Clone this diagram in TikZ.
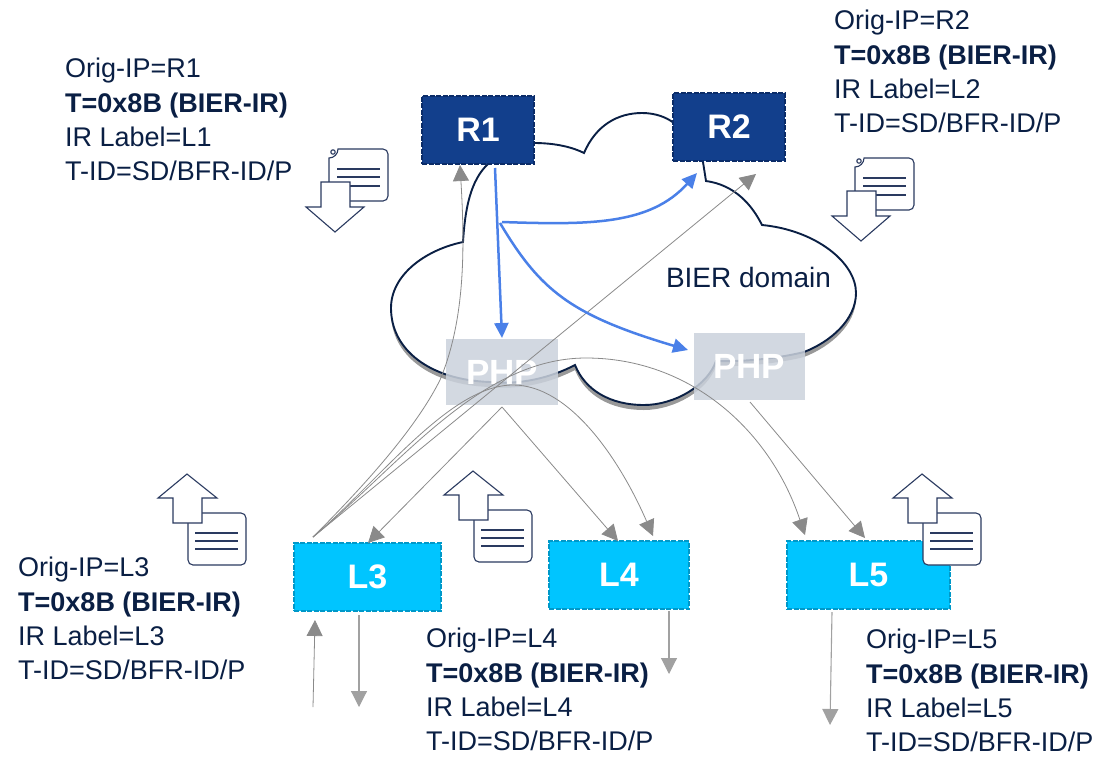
\documentclass[tikz,border=0pt]{standalone}
\usepackage{fontspec}
\setmainfont{Liberation Sans}
\usetikzlibrary{arrows.meta}
\definecolor{ink}{HTML}{0A1F44}
\definecolor{rblue}{HTML}{123F8C}
\definecolor{rdash}{HTML}{0B2C68}
\definecolor{lcyan}{HTML}{00C5FF}
\definecolor{ldash}{HTML}{0098C8}
\definecolor{phpgrey}{HTML}{CBD2DC}
\definecolor{flow}{HTML}{4A80E8}
\definecolor{thin}{HTML}{8A8A8A}
\definecolor{iconline}{HTML}{2A3A60}
\tikzset{
  rbox/.style={draw=rdash,dash pattern=on 5pt off 1.5pt,line width=1.5pt,fill=rblue,text=white,font=\fontsize{34}{36}\selectfont\bfseries,inner sep=0pt},
  lbox/.style={draw=ldash,dash pattern=on 5pt off 1.5pt,line width=1.6pt,fill=lcyan,text=white,font=\fontsize{34}{36}\selectfont\bfseries,inner sep=0pt},
  phpbox/.style={fill=phpgrey,fill opacity=.85,text opacity=1,text=white,font=\fontsize{35}{36}\selectfont\bfseries,inner sep=0pt},
  info/.style={anchor=north west,align=left,inner sep=0pt,text=ink,font=\fontsize{27}{34.3}\selectfont},
  flowline/.style={draw=flow,line width=2.5pt,-{Triangle[length=15pt,width=14pt]}},
  thinline/.style={draw=thin,line width=.8pt,-{Triangle[length=16pt,width=16pt]}},
  grayline/.style={draw=thin!80,line width=1.1pt,-{Triangle[length=16pt,width=16pt]}},
  iconstroke/.style={draw=iconline,line width=1.1pt},
  pics/docdown/.style={code={
    \draw[iconstroke,fill=white,rounded corners=5pt] (9,0) -- (59,0) -- (59,52) -- (0,52) -- (0,14) [sharp corners] -- (0,9) .. controls (5,9) and (9,5) .. (9,0) -- cycle;
    \draw[iconstroke,fill=white] (4,3) circle[radius=2.2];
    \foreach \yy in {20,28,37}{\draw[iconstroke,line width=1.6pt] (8,\yy) -- (51,\yy);}
    \draw[iconstroke,fill=white] (-8,33) -- (21,33) -- (21,58) -- (35,58) -- (6,83) -- (-23,58) -- (-8,58) -- cycle;
  }},
  pics/docup/.style={code={
    \draw[iconstroke,fill=white,rounded corners=5pt] (1,39) -- (59,39) -- (59,91) -- (1,91) -- cycle;
    \foreach \yy in {59,67,75}{\draw[iconstroke,line width=1.6pt] (8,\yy) -- (51,\yy);}
    \draw[iconstroke,fill=white] (0,0) -- (30,24) -- (15,24) -- (15,49) -- (-14,49) -- (-14,24) -- (-29,24) -- cycle;
  }},
}
\begin{document}
\begin{tikzpicture}[x=1pt,y=-1pt]
\useasboundingbox (0,0) rectangle (1095,756);
\def\cloudpath{(534,143) .. controls (552,143) and (570,146) .. (584,153)
 .. controls (596,125) and (618,113) .. (642,113) .. controls (655,113) and (666,117) .. (674,123)
 -- (703,162) -- (706,181) .. controls (735,185) and (752,205) .. (762,225)
 .. controls (815,230) and (856,262) .. (856,293) .. controls (856,320) and (830,342) .. (804,352)
 .. controls (780,358) and (745,362) .. (716,361) .. controls (708,385) and (675,405) .. (644,405)
 .. controls (610,405) and (585,390) .. (575,365) .. controls (550,378) and (520,385) .. (490,382)
 .. controls (430,380) and (391,350) .. (391,308) .. controls (391,275) and (425,250) .. (463,242)
 .. controls (465,210) and (470,180) .. (489,163) -- cycle}
% cloud
\fill[black!40,yshift=-5pt] \cloudpath;
\draw[draw=ink,line width=1.9pt,fill=white] \cloudpath;
\node[anchor=base,inner sep=0pt,text=ink,font=\fontsize{28}{30}\selectfont] (dom) at (748.5,287) {BIER domain};
% nodes
\node[rbox,minimum width=112pt,minimum height=68pt] (R1) at (478,130) {R1};
\node[rbox,minimum width=112pt,minimum height=68pt] (R2) at (729,127) {R2};
\node[phpbox,minimum width=112pt,minimum height=66pt] (P1) at (502,372) {PHP};
\node[phpbox,minimum width=111pt,minimum height=67pt] (P2) at (749,366.5) {PHP};
\node[lbox,minimum width=147pt,minimum height=68pt] (L3) at (367.5,577) {L3};
\node[lbox,minimum width=140pt,minimum height=68pt] (L4) at (619,575) {L4};
\node[lbox,minimum width=163pt,minimum height=68pt] (L5) at (868.5,575) {L5};
% icons
\pic at (329,149) {docdown};
\pic at (855,158) {docdown};
\pic at (187,474) {docup};
\pic at (473,471) {docup};
\pic at (922,474) {docup};
% coordinates
\coordinate (src) at (313,537);
\coordinate (r1tip) at (460,165);
\coordinate (r2tip) at (756,174);
\coordinate (php) at (502,407);
\coordinate (php2) at (750,402);
\coordinate (l3tip) at (368,543);
\coordinate (l4a) at (618,541);
\coordinate (l4b) at (653,536);
\coordinate (l5a) at (805,535);
\coordinate (l5b) at (865,538);
\coordinate (in3s) at (313,707);
\coordinate (in3t) at (315,620);
\coordinate (out3s) at (359,615);
\coordinate (out3t) at (359,707);
\coordinate (out4s) at (669,611);
\coordinate (out4t) at (669,674);
\coordinate (out5s) at (832,612);
\coordinate (out5t) at (830,725);
\coordinate (b0) at (495,168);
\coordinate (b1) at (502,338);
\coordinate (b2) at (502,222);
\coordinate (b3) at (697,173);
\coordinate (b4) at (500,223);
\coordinate (b5) at (688,350);
% thin grey
\draw[thinline] (src) .. controls (380,470) and (420,420) .. (440,380) .. controls (465,320) and (465,250) .. (r1tip);
\draw[thinline] (src) -- (r2tip);
\draw[thinline] (src) .. controls (400,465) and (480,358) .. (586,358) .. controls (690,358) and (770,430) .. (l5a);
\draw[thinline] (src) .. controls (380,480) and (450,385) .. (513,385) .. controls (570,385) and (620,460) .. (l4b);
\draw[thinline] (php) -- (l3tip);
\draw[thinline] (php) -- (l4a);
\draw[thinline] (php2) -- (l5b);
\draw[thinline] (in3s) -- (in3t);
\draw[grayline] (out3s) -- (out3t);
\draw[grayline] (out4s) -- (out4t);
\draw[grayline] (out5s) -- (out5t);
% blue
\draw[flowline] (b0) -- (b1);
\draw[flowline] (b2) .. controls (590,225) and (650,225) .. (b3);
\draw[flowline] (b4) .. controls (540,290) and (570,315) .. (b5);
% texts
\node[info] (t1) at (65,58) {Orig-IP=R1\\\textbf{T=0x8B (BIER-IR)}\\IR Label=L1\\T-ID=SD/BFR-ID/P};
\node[info] (t2) at (834,10) {Orig-IP=R2\\\textbf{T=0x8B (BIER-IR)}\\IR Label=L2\\T-ID=SD/BFR-ID/P};
\node[info] (t3) at (18,557) {Orig-IP=L3\\\textbf{T=0x8B (BIER-IR)}\\IR Label=L3\\T-ID=SD/BFR-ID/P};
\node[info] (t4) at (426,628) {Orig-IP=L4\\\textbf{T=0x8B (BIER-IR)}\\IR Label=L4\\T-ID=SD/BFR-ID/P};
\node[info] (t5) at (866,629) {Orig-IP=L5\\\textbf{T=0x8B (BIER-IR)}\\IR Label=L5\\T-ID=SD/BFR-ID/P};
\end{tikzpicture}
\end{document}
